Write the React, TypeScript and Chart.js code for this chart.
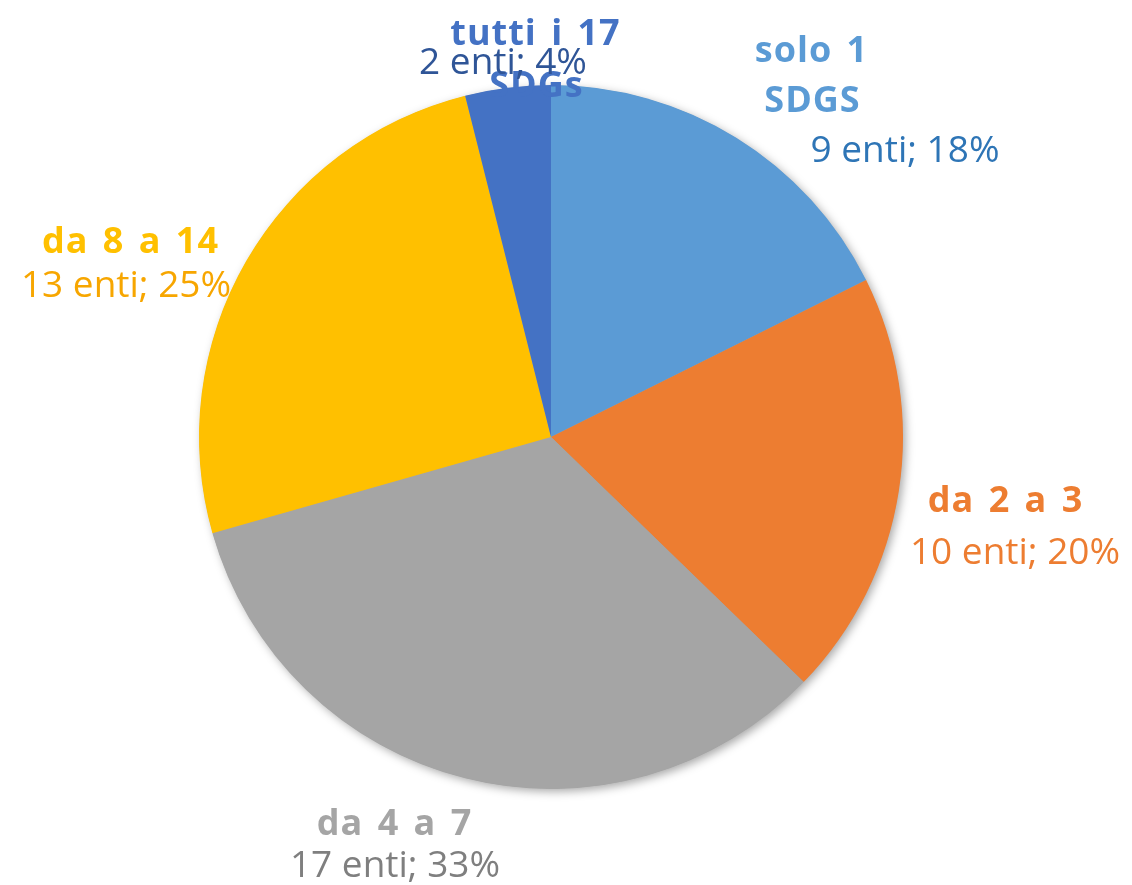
import React, { useEffect, useRef } from "react";
import { Chart, registerables } from "chart.js";

Chart.register(...registerables);

// ---- data ----
const categoryLines: string[][] = [
  ["solo 1", "SDGS"],
  ["da 2 a 3"],
  ["da 4 a 7"],
  ["da 8 a 14"],
  ["tutti i 17", "SDGs"],
];
const counts: number[] = [9, 10, 17, 13, 2];
const valueLabels: string[] = ["9 enti; 18%", "10 enti; 20%", "17 enti; 33%", "13 enti; 25%", "2 enti; 4%"];

// ---- styles ----
const sliceColors = ["#5B9BD5", "#ED7D31", "#A5A5A5", "#FFC000", "#4472C4"];
const titleColors = ["#5B9BD5", "#ED7D31", "#A5A5A5", "#FFC000", "#4472C4"];
const valueColors = ["#2E75B6", "#ED7D31", "#7F7F7F", "#F7A600", "#2F5597"];

// label layout: offsets from pie centre (text centre x, baseline y)
const titleOffsets: [number, number][][] = [
  [[260, -375], [261, -325]],
  [[454, 75]],
  [[-157, 398]],
  [[-421, -184]],
  [[-16, -392], [-15, -340]],
];
const valueOffsets: [number, number][] = [
  [354, -275],
  [464, 127],
  [-156, 440],
  [-425, -140],
  [-48, -363],
];

const FONT = '"Open Sans", "DejaVu Sans", sans-serif';

const shadowPlugin = {
  id: "pieShadow",
  beforeDatasetsDraw(chart: any) {
    const meta = chart.getDatasetMeta(0);
    const arc = meta.data[0];
    if (!arc) return;
    const { x, y, outerRadius } = arc.getProps(["x", "y", "outerRadius"], true);
    const ctx = chart.ctx;
    ctx.save();
    ctx.shadowColor = "rgba(0,0,0,0.35)";
    ctx.shadowBlur = 10;
    ctx.shadowOffsetX = 3;
    ctx.shadowOffsetY = 3;
    ctx.fillStyle = "#A5A5A5";
    ctx.beginPath();
    ctx.arc(x, y, outerRadius - 0.5, 0, Math.PI * 2);
    ctx.fill();
    ctx.restore();
  },
};

const labelPlugin = {
  id: "pieLabels",
  afterDatasetsDraw(chart: any) {
    const meta = chart.getDatasetMeta(0);
    const arc0 = meta.data[0];
    if (!arc0) return;
    const { x: cx, y: cy } = arc0.getProps(["x", "y"], true);
    const ctx = chart.ctx;
    ctx.save();
    ctx.textAlign = "center";
    ctx.textBaseline = "alphabetic";
    meta.data.forEach((_: any, i: number) => {
      ctx.fillStyle = titleColors[i];
      ctx.font = `bold 36px ${FONT}`;
      (ctx as any).letterSpacing = "1px";
      (ctx as any).wordSpacing = "4px";
      categoryLines[i].forEach((line, j) => {
        const [dx, dy] = titleOffsets[i][j];
        ctx.fillText(line, cx + dx + 0.5, cy + dy);
      });
      (ctx as any).letterSpacing = "0px";
      (ctx as any).wordSpacing = "0px";
      ctx.font = `37px ${FONT}`;
      ctx.fillStyle = valueColors[i];
      const [vx, vy] = valueOffsets[i];
      ctx.fillText(valueLabels[i], cx + vx, cy + vy);
    });
    ctx.restore();
  },
};

export default function App() {
  const ref = useRef<HTMLCanvasElement | null>(null);
  useEffect(() => {
    document.body.style.margin = "0";
    const canvas = ref.current;
    if (!canvas) return;
    const chart = new Chart(canvas, {
      type: "pie",
      data: {
        labels: categoryLines.map((l) => l.join(" ")),
        datasets: [
          {
            data: counts,
            backgroundColor: sliceColors,
            borderWidth: 0,
          },
        ],
      },
      options: {
        responsive: false,
        animation: false,
        layout: { padding: { left: 199, right: 229, top: 85, bottom: 96 } },
        plugins: {
          legend: { display: false },
          tooltip: { enabled: false },
        },
      },
      plugins: [shadowPlugin, labelPlugin],
    });
    return () => chart.destroy();
  }, []);
  return (
    <div style={{ width: 1132, height: 885, background: "#fff" }}>
      <canvas ref={ref} width={1132} height={885} />
    </div>
  );
}
